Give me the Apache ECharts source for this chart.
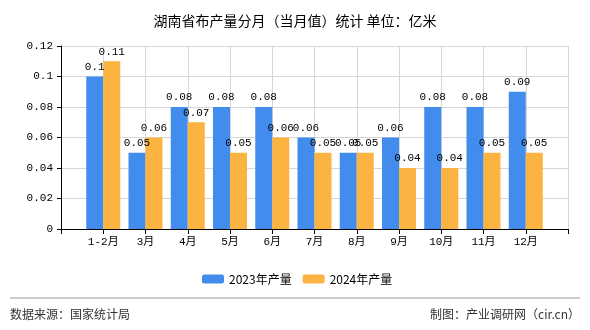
<!DOCTYPE html>
<html><head><meta charset="utf-8">
<script src="https://cdn.jsdelivr.net/npm/echarts@6/dist/echarts.min.js"></script>
<style>html,body{margin:0;padding:0;background:#fff}#c{width:590px;height:330px}</style>
</head><body><div id="c"></div>
<script>
const categories = ['1-2月','3月','4月','5月','6月','7月','8月','9月','10月','11月','12月'];
const values2023 = [0.1,0.05,0.08,0.08,0.08,0.06,0.05,0.06,0.08,0.08,0.09];
const values2024 = [0.11,0.06,0.07,0.05,0.06,0.05,0.05,0.04,0.04,0.05,0.05];
const seriesNames = ['2023年产量','2024年产量'];
const yTicks = {min:0, max:0.12, interval:0.02};

const chart = echarts.init(document.getElementById('c'));
const pad = a => ['-'].concat(a, ['-']);
const mono = "'Liberation Mono','Noto Sans CJK SC',monospace";
const labelCfg = {show:true, position:'top', distance:4, color:'#000', fontSize:11, fontFamily:mono};
chart.setOption({
  animation:false,
  title:{text:'湖南省布产量分月（当月值）统计 单位：亿米', left:'center', top:9,
    textStyle:{fontSize:14, fontWeight:'normal', color:'#000', fontFamily:"'Noto Sans CJK SC'"}},
  grid:{left:61, right:22, top:46, bottom:101},
  legend:{left:197, top:268, itemWidth:22, itemHeight:9, itemGap:11,
    textStyle:{fontSize:12, color:'#000', fontFamily:"'Noto Sans CJK SC'"},
    data:seriesNames},
  xAxis:{type:'category', boundaryGap:false, data:[''].concat(categories,['']),
    axisLine:{lineStyle:{color:'#000'}},
    axisTick:{show:true, length:5, lineStyle:{color:'#000'}},
    axisLabel:{color:'#000', fontSize:11, fontFamily:mono, margin:8},
    splitLine:{show:true, lineStyle:{color:'#d6d6d6'}}},
  yAxis:{type:'value', min:yTicks.min, max:yTicks.max, interval:yTicks.interval,
    axisLine:{show:true, lineStyle:{color:'#000'}},
    axisTick:{show:true, length:4, lineStyle:{color:'#000'}},
    axisLabel:{color:'#000', fontSize:11, fontFamily:mono, margin:8},
    splitLine:{show:true, lineStyle:{color:'#d6d6d6'}}},
  series:[
    {name:seriesNames[0], type:'bar', data:pad(values2023), barWidth:17, barGap:'0%',
      itemStyle:{color:'#418cec'}, label:labelCfg},
    {name:seriesNames[1], type:'bar', data:pad(values2024), barWidth:17, barGap:'0%',
      itemStyle:{color:'#fbb441'}, label:labelCfg}
  ],
  graphic:[
    {type:'line', shape:{x1:10,y1:298,x2:580,y2:298}, style:{stroke:'#999', lineWidth:1}},
    {type:'text', left:10, top:308, style:{text:'数据来源：国家统计局', fontSize:12, fill:'#333', fontFamily:"'Noto Sans CJK SC'"}},
    {type:'text', right:10, top:308, style:{text:'制图：产业调研网（cir.cn）', fontSize:12, fill:'#333', fontFamily:"'Noto Sans CJK SC'"}}
  ]
});
</script></body></html>
